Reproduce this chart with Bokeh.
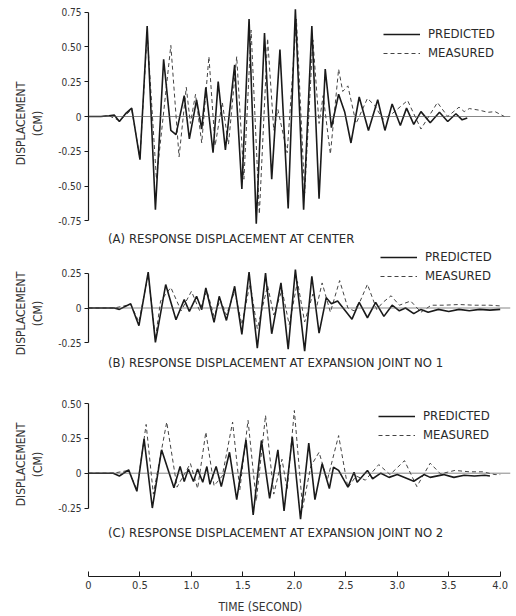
from bokeh.plotting import figure
from bokeh.layouts import column
from bokeh.models import Span, Label, Legend, FixedTicker, ColumnDataSource
from bokeh.embed import file_html
from bokeh.resources import INLINE

# ---------------- data (time in seconds, displacement in cm) ----------------
a_pred_t = [0.00, 0.12, 0.20, 0.25, 0.30, 0.36, 0.42, 0.50, 0.57, 0.65, 0.73, 0.80, 0.85, 0.93, 0.98,
            1.05, 1.10, 1.14, 1.21, 1.26, 1.33, 1.42, 1.49, 1.56, 1.63, 1.71, 1.78, 1.86, 1.94, 2.01,
            2.09, 2.17, 2.24, 2.30, 2.36, 2.43, 2.49, 2.55, 2.63, 2.72, 2.81, 2.88, 2.95, 3.03, 3.09,
            3.16, 3.23, 3.32, 3.41, 3.49, 3.57, 3.63, 3.68]
a_pred_v = [0.0, 0.0, 0.005, 0.01, -0.036, 0.02, 0.06, -0.31, 0.65, -0.67, 0.41, -0.10, -0.13, 0.15, -0.16,
            0.12, -0.09, 0.21, -0.26, 0.25, -0.24, 0.37, -0.52, 0.70, -0.77, 0.60, -0.45, 0.48, -0.66, 0.77,
            -0.67, 0.65, -0.59, 0.34, -0.08, 0.16, 0.03, -0.19, 0.14, -0.10, 0.12, -0.10, 0.09, -0.065, 0.06,
            -0.057, 0.035, -0.045, 0.03, -0.036, 0.02, -0.024, -0.01]

a_meas_t = [0.00, 0.12, 0.20, 0.30, 0.42, 0.50, 0.57, 0.66, 0.80, 0.88, 0.95, 0.99, 1.04, 1.10, 1.17,
            1.23, 1.30, 1.36, 1.44, 1.51, 1.58, 1.66, 1.74, 1.80, 1.84, 1.93, 2.02, 2.10, 2.18, 2.24,
            2.28, 2.35, 2.43, 2.47, 2.52, 2.60, 2.71, 2.78, 2.86, 2.95, 3.10, 3.23, 3.39, 3.49, 3.60,
            3.65, 3.70, 3.80, 3.88, 3.95, 4.04]
a_meas_v = [0.0, 0.0, 0.005, -0.03, 0.05, -0.30, 0.60, -0.45, 0.51, -0.29, 0.21, -0.05, 0.16, -0.19, 0.43,
            -0.21, 0.10, -0.20, 0.43, -0.45, 0.62, -0.70, 0.56, -0.10, 0.05, -0.26, 0.70, -0.55, 0.55, -0.05,
            0.15, -0.27, 0.34, 0.18, 0.22, -0.05, 0.13, 0.08, -0.02, 0.02, 0.115, -0.09, 0.10, 0.0, 0.067,
            0.035, 0.057, 0.045, 0.03, 0.035, 0.0]

b_pred_t = [0.00, 0.25, 0.30, 0.41, 0.49, 0.58, 0.65, 0.75, 0.85, 0.93, 0.98, 1.05, 1.10, 1.14, 1.22,
            1.27, 1.34, 1.42, 1.49, 1.56, 1.64, 1.72, 1.78, 1.87, 1.94, 2.01, 2.10, 2.17, 2.24, 2.31,
            2.36, 2.42, 2.56, 2.63, 2.71, 2.79, 2.87, 2.95, 3.02, 3.08, 3.16, 3.23, 3.30, 3.40, 3.50,
            3.60, 3.70, 3.80, 3.90, 4.00]
b_pred_v = [0.0, 0.0, -0.01, 0.03, -0.127, 0.257, -0.247, 0.168, -0.084, 0.06, -0.024, 0.084, -0.012, 0.144, -0.103,
            0.084, -0.089, 0.156, -0.19, 0.257, -0.288, 0.25, -0.185, 0.18, -0.295, 0.275, -0.31, 0.228, -0.18, 0.074,
            0.03, 0.05, -0.08, 0.04, -0.07, 0.04, -0.06, 0.02, -0.02, 0.0, -0.04, -0.01, -0.03, -0.01, -0.025,
            -0.01, -0.02, -0.01, -0.015, -0.01]

b_meas_t = [0.00, 0.25, 0.41, 0.49, 0.58, 0.65, 0.70, 0.80, 0.90, 1.00, 1.08, 1.15, 1.22, 1.28, 1.34,
            1.42, 1.49, 1.57, 1.64, 1.74, 1.80, 1.88, 1.95, 2.03, 2.10, 2.18, 2.22, 2.27, 2.35, 2.44,
            2.52, 2.58, 2.64, 2.71, 2.80, 2.86, 2.94, 3.02, 3.13, 3.23, 3.33, 3.45, 3.60, 3.75, 3.90, 4.00]
b_meas_v = [0.0, 0.0, 0.025, -0.10, 0.24, -0.22, 0.05, 0.147, -0.02, 0.12, -0.02, 0.125, -0.06, 0.06, -0.05,
            0.12, -0.12, 0.18, -0.15, 0.16, -0.05, 0.13, -0.12, 0.19, -0.10, 0.10, 0.02, 0.18, -0.03, 0.197,
            0.0, -0.02, 0.05, 0.17, -0.01, 0.04, 0.088, 0.02, 0.05, -0.03, 0.02, 0.02, 0.025, 0.02, 0.02, 0.015]

c_pred_t = [0.00, 0.24, 0.30, 0.39, 0.47, 0.54, 0.62, 0.71, 0.83, 0.89, 0.93, 0.97, 1.02, 1.06, 1.11,
            1.15, 1.18, 1.24, 1.29, 1.37, 1.44, 1.53, 1.60, 1.68, 1.76, 1.84, 1.90, 1.98, 2.06, 2.14,
            2.20, 2.27, 2.34, 2.38, 2.43, 2.52, 2.58, 2.61, 2.71, 2.76, 2.84, 2.92, 3.00, 3.16, 3.26,
            3.32, 3.45, 3.55, 3.65, 3.75, 3.85, 3.90]
c_pred_v = [0.0, 0.0, -0.02, 0.024, -0.13, 0.247, -0.25, 0.168, -0.105, 0.048, -0.06, 0.03, -0.06, 0.03, -0.065,
            0.048, -0.08, 0.048, -0.096, 0.15, -0.19, 0.24, -0.30, 0.235, -0.18, 0.168, -0.27, 0.26, -0.33, 0.216,
            -0.19, 0.068, -0.11, 0.043, 0.02, -0.10, 0.007, -0.065, 0.02, -0.04, 0.0, -0.03, -0.01, -0.058, -0.01,
            -0.03, -0.01, -0.03, -0.015, -0.02, -0.015, -0.02]

c_meas_t = [0.00, 0.24, 0.39, 0.47, 0.56, 0.63, 0.76, 0.86, 0.99, 1.06, 1.14, 1.22, 1.30, 1.40, 1.47,
            1.55, 1.63, 1.72, 1.80, 1.88, 1.93, 2.00, 2.08, 2.16, 2.24, 2.32, 2.43, 2.52, 2.60, 2.69,
            2.82, 2.93, 3.07, 3.19, 3.32, 3.42, 3.56, 3.70, 3.83, 3.95, 4.00]
c_meas_v = [0.0, 0.0, 0.02, -0.12, 0.35, -0.15, 0.367, -0.10, 0.07, -0.11, 0.295, -0.09, -0.02, 0.367, -0.12,
            0.38, -0.20, 0.415, -0.15, 0.10, -0.12, 0.45, -0.25, 0.05, 0.15, -0.05, 0.27, -0.105, -0.02, -0.05,
            0.062, -0.01, 0.09, -0.096, 0.072, -0.005, 0.02, 0.01, 0.01, -0.01, -0.01]

a_ticks = [-0.75, -0.5, -0.25, 0.0, 0.25, 0.5, 0.75]
a_tick_labels = ["-0.75", "-0.50", "-0.25", "0", "0.25", "0.50", "0.75"]
b_ticks = [-0.25, 0.0, 0.25]
b_tick_labels = ["-0.25", "0", "0.25"]
c_ticks = [-0.25, 0.0, 0.25, 0.5]
c_tick_labels = ["-0.25", "0", "0.25", "0.50"]
time_ticks = [0.0, 0.5, 1.0, 1.5, 2.0, 2.5, 3.0, 3.5, 4.0]
time_tick_labels = ["0", "0.5", "1.0", "1.5", "2.0", "2.5", "3.0", "3.5", "4.0"]
time_title = "TIME (SECOND)"

captions = ["(A) RESPONSE DISPLACEMENT AT CENTER",
            "(B) RESPONSE DISPLACEMENT AT EXPANSION JOINT NO 1",
            "(C) RESPONSE DISPLACEMENT AT EXPANSION JOINT NO 2"]
series_names = ["PREDICTED", "MEASURED"]

# ---------------- styling / layout ----------------
FONT = "Liberation Sans Narrow, DejaVu Sans Condensed, Liberation Sans"
INK = "#1a1a1a"
TXT = "#2a2a2a"
PX = 139.3          # pixels per cm on the vertical scales
LEFT = 88
W = 516
XR = (0.0, 4.1)


def base_fig(h, yr, **kw):
    p = figure(width=W, height=h, x_range=XR, y_range=yr,
               output_backend="svg", toolbar_location=None,
               min_border_left=LEFT, min_border_right=W - LEFT - 422,
               min_border_top=0, outline_line_color=None,
               background_fill_color="white", border_fill_color="white", **kw)
    p.grid.visible = False
    return p


def make_panel(h, zero_px, ticks, tick_labels, pt, pv, mt, mv, caption, cap_px, leg_xy):
    top = zero_px / PX
    bottom = -(h - zero_px) / PX
    p = base_fig(h, (bottom, top), x_axis_location=None, y_axis_location="left",
                 min_border_bottom=0)
    ax = p.yaxis[0]
    ax.bounds = (ticks[0], ticks[-1])
    ax.ticker = FixedTicker(ticks=ticks, minor_ticks=[])
    ax.major_label_overrides = {t: l for t, l in zip(ticks, tick_labels)}
    ax.major_tick_out = 4
    ax.major_tick_in = 0
    ax.axis_line_width = 1.2
    ax.axis_line_color = INK
    ax.major_tick_line_color = INK
    ax.major_label_text_font = FONT
    ax.major_label_text_font_size = "10px"
    ax.major_label_text_color = "#333333"
    ax.major_label_standoff = 3
    ax.axis_label = "DISPLACEMENT\n(CM)"
    ax.axis_label_text_font = FONT
    ax.axis_label_text_font_size = "12px"
    ax.axis_label_text_font_style = "normal"
    ax.axis_label_text_color = "#333333"
    ax.axis_label_standoff = 10

    p.add_layout(Span(location=0, dimension="width", line_color="#555555", line_width=0.7))

    src_p = ColumnDataSource(dict(t=pt, v=pv))
    src_m = ColumnDataSource(dict(t=mt, v=mv))
    rm = p.line("t", "v", source=src_m, line_color="#444444", line_width=1.0, line_dash="4 3")
    rp = p.line("t", "v", source=src_p, line_color=INK, line_width=1.6)

    cap_v = (zero_px - cap_px) / PX
    p.add_layout(Label(x=0.19, y=cap_v, text=caption, text_baseline="middle", text_align="left",
                       text_font=FONT, text_font_size="13px", text_color=TXT))

    leg = Legend(items=[(series_names[0], [rp]), (series_names[1], [rm])],
                 location=leg_xy, orientation="vertical",
                 background_fill_alpha=0, border_line_color=None,
                 padding=0, margin=0, spacing=4,
                 glyph_width=37, glyph_height=14, label_height=14, label_standoff=8,
                 label_text_font=FONT, label_text_font_size="13px", label_text_color=TXT)
    p.add_layout(leg)
    return p


pA = make_panel(246, 116, a_ticks, a_tick_labels, a_pred_t, a_pred_v, a_meas_t, a_meas_v,
                captions[0], 238, (295, 186))
pB = make_panel(134, 61.5, b_ticks, b_tick_labels, b_pred_t, b_pred_v, b_meas_t, b_meas_v,
                captions[1], 116, (292, 97))
pC = make_panel(168, 92.7, c_ticks, c_tick_labels, c_pred_t, c_pred_v, c_meas_t, c_meas_v,
                captions[2], 152, (290, 106))

# ---------------- shared time axis ----------------
pT = base_fig(46, (0, 1), x_axis_location="below", y_axis_location=None, min_border_bottom=18)
xa = pT.xaxis[0]
xa.bounds = (time_ticks[0], time_ticks[-1])
xa.ticker = FixedTicker(ticks=time_ticks, minor_ticks=[])
xa.major_label_overrides = {t: l for t, l in zip(time_ticks, time_tick_labels)}
xa.major_tick_in = 5
xa.major_tick_out = 0
xa.axis_line_width = 1.2
xa.axis_line_color = INK
xa.major_tick_line_color = INK
xa.major_label_text_font = FONT
xa.major_label_text_font_size = "11px"
xa.major_label_text_color = "#333333"
xa.major_label_standoff = 4

# axis title strip (title sits left of centre, as in the original)
pTitle = base_fig(22, (0, 1), x_axis_location=None, y_axis_location=None, min_border_bottom=0)
pTitle.add_layout(Label(x=1.67, y=0.45, text=time_title, text_align="center", text_baseline="middle",
                        text_font=FONT, text_font_size="12px", text_color="#333333"))

layout = column(pA, pB, pC, pT, pTitle, spacing=0)

open("out.html", "w").write(file_html(layout, INLINE))
